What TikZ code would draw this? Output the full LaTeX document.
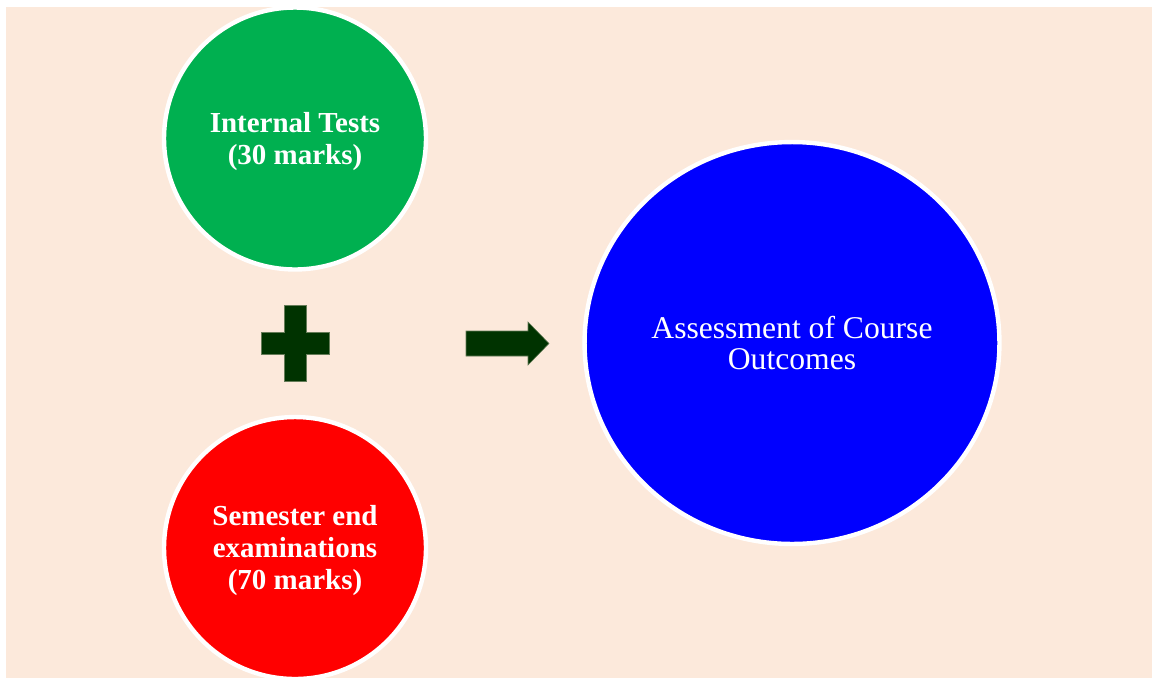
\documentclass[tikz,border=0pt]{standalone}
\usepackage{fontspec}
\setmainfont{Liberation Serif}
\usetikzlibrary{shapes.geometric}
\definecolor{peach}{RGB}{252,233,219}
\definecolor{testgreen}{RGB}{0,176,80}
\definecolor{darkgreen}{RGB}{0,51,0}

\tikzset{
  bubble/.style={circle, draw=white, line width=2.5pt, inner sep=0pt, minimum size=5.24cm, text=white, align=center, font=\bfseries\fontsize{16.5}{18.2}\selectfont},
  sign/.style={fill=darkgreen, draw=darkgreen!60!peach, line width=0.3pt}
}

\begin{document}
\begin{tikzpicture}[x=0.02cm,y=-0.02cm]
            \useasboundingbox (0,0) rectangle (1152,677);
            \fill[peach] (6,7) rectangle (1160,685);
            \node[bubble, fill=testgreen, text height=33pt] (internal) at (295,138.5) {Internal Tests\\(30 marks)};
            \node[bubble, fill=red, text height=51pt] (semester) at (295,548) {Semester end\\examinations\\(70 marks)};
            \node[ellipse, draw=white, line width=2.5pt, fill=blue, inner sep=0pt, minimum width=8.3cm, minimum height=8.04cm, text=white, align=center, font=\fontsize{18}{18.2}\selectfont] (outcomes) at (792,343) {Assessment of Course\\Outcomes};
            % plus sign
            \draw[sign] (284,305) -- (306,305) -- (306,332) -- (329,332) -- (329,354) -- (306,354) -- (306,381) -- (284,381) -- (284,354) -- (261,354) -- (261,332) -- (284,332) -- cycle;
            % block arrow
            \draw[sign] (466,331) -- (528,331) -- (528,322) -- (549,343.5) -- (528,365) -- (528,356) -- (466,356) -- cycle;
\end{tikzpicture}
\end{document}
